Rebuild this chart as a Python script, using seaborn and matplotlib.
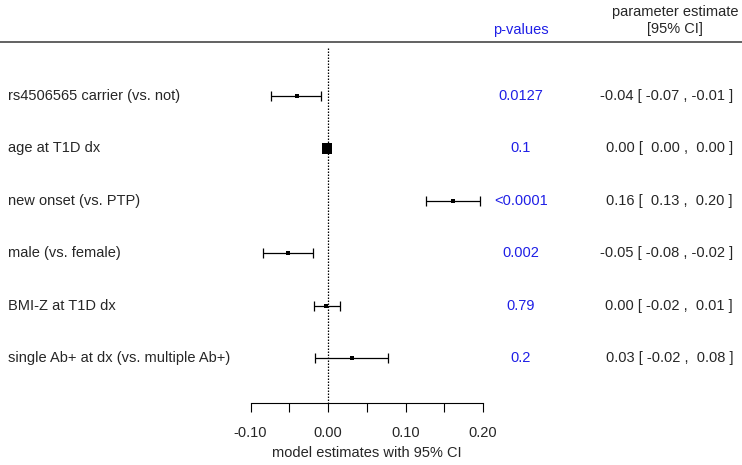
import numpy as np
import pandas as pd
import matplotlib
matplotlib.use("Agg")
import matplotlib.pyplot as plt
import seaborn as sns

# values
labels = ["rs4506565 carrier (vs. not)", "age at T1D dx", "new onset (vs. PTP)",
          "male (vs. female)", "BMI-Z at T1D dx", "single Ab+ at dx (vs. multiple Ab+)"]
estimate = [-0.040, -0.001, 0.161, -0.052, -0.003, 0.031]
ci_low = [-0.073, -0.003, 0.126, -0.084, -0.018, -0.017]
ci_high = [-0.009, 0.001, 0.196, -0.019, 0.015, 0.078]
weight = [9, 55, 7, 8, 9, 5]
pvalues = ["0.0127", "0.1", "<0.0001", "0.002", "0.79", "0.2"]
est_text = ["-0.04 [ -0.07 , -0.01 ]", "0.00 [  0.00 ,  0.00 ]", "0.16 [  0.13 ,  0.20 ]",
            "-0.05 [ -0.08 , -0.02 ]", "0.00 [ -0.02 ,  0.01 ]", "0.03 [ -0.02 ,  0.08 ]"]
xticks = [-0.10, 0.00, 0.10, 0.20]
xtick_labels = ["-0.10", "0.00", "0.10", "0.20"]

df = pd.DataFrame({"label": labels, "est": estimate, "lo": ci_low, "hi": ci_high,
                   "w": weight, "row": range(len(labels))})

sns.set_theme(style="white")
plt.rcParams["font.family"] = ["Liberation Sans", "DejaVu Sans"]

fig = plt.figure(figsize=(7.42, 4.65), dpi=100)
ax = fig.add_axes([0, 0, 1, 1])

# pixel layout: zero at x=328, 775 px per unit; rows start at y=96, 52.4 px apart
ax.set_xlim(-328 / 775, (742 - 328) / 775)
ax.set_ylim((465 - 96) / 52.4, -96 / 52.4)

ax.errorbar(df["est"], df["row"], xerr=[df["est"] - df["lo"], df["hi"] - df["est"]],
            fmt="none", ecolor="black", elinewidth=0.9, capsize=3.5, capthick=0.9, zorder=2)
sns.scatterplot(x="est", y="row", data=df, marker="s", color="black",
                s=df["w"].values, linewidth=0, legend=False, ax=ax, zorder=3)

axis_y = (403.3 - 96) / 52.4
ax.vlines(0, (48 - 96) / 52.4, axis_y, colors="black", linewidth=0.9,
          linestyles=(0, (1.2, 1.2)), zorder=1)
ax.axhline((42.3 - 96) / 52.4, color="#555555", linewidth=1.3)

fs = 10.5
tr = ax.get_yaxis_transform()
for i, r in df.iterrows():
    ax.text(8 / 742, r["row"], r["label"], transform=tr, ha="left", va="center", fontsize=fs)
    ax.text(521 / 742, r["row"], pvalues[i], transform=tr, ha="center", va="center",
            fontsize=fs, color="#1f1fe6")
    ax.text(733 / 742, r["row"], est_text[i], transform=tr, ha="right", va="center", fontsize=fs)

ax.text(521 / 742, 1 - 30 / 465, "p-values", transform=ax.transAxes, ha="center",
        va="center", fontsize=fs, color="#1f1fe6")
ax.text(675 / 742, 1 - 12 / 465, "parameter estimate", transform=ax.transAxes,
        ha="center", va="center", fontsize=fs)
ax.text(675 / 742, 1 - 29 / 465, "[95% CI]", transform=ax.transAxes,
        ha="center", va="center", fontsize=fs)
ax.text(0.05, (453 - 96) / 52.4, "model estimates with 95% CI", ha="center",
        va="center", fontsize=fs)

for side in ["top", "left", "right"]:
    ax.spines[side].set_visible(False)
ax.spines["bottom"].set_position(("data", axis_y))
ax.spines["bottom"].set_bounds(-0.10, 0.20)
ax.spines["bottom"].set_color("black")
ax.spines["bottom"].set_linewidth(0.8)
ax.set_xticks(xticks)
ax.set_xticklabels(xtick_labels, fontsize=fs)
ax.set_xticks([-0.05, 0.05, 0.15], minor=True)
ax.tick_params(axis="x", which="both", direction="out", length=6.8, width=0.8,
               color="black", bottom=True, pad=9.5)
ax.set_yticks([])
ax.set_xlabel("")
ax.set_ylabel("")
ax.patch.set_alpha(0)

fig.savefig("out.png", dpi=100)
